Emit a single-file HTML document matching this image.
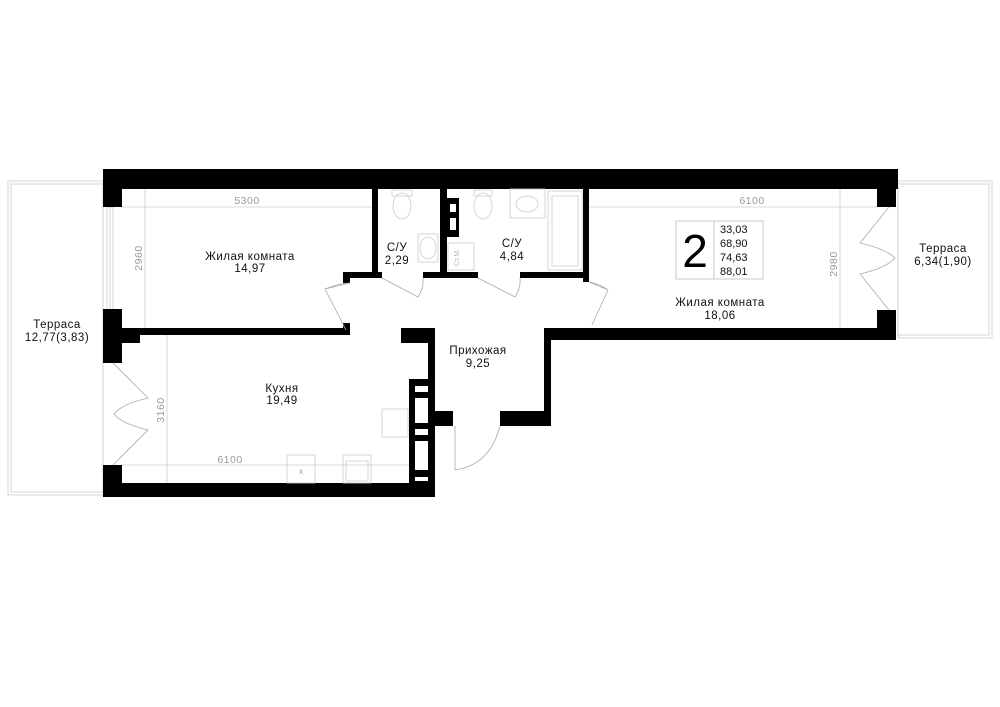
<!DOCTYPE html>
<html><head><meta charset="utf-8"><style>
html,body{margin:0;padding:0;background:#fff;}
svg{display:block;}
text{font-family:"Liberation Sans",sans-serif;}
.l{font-size:11.5px;fill:#111;text-anchor:middle;letter-spacing:0.5px;}
.d{font-size:10.5px;fill:#999;text-anchor:middle;letter-spacing:0.5px;}
.g{stroke:#aaa;stroke-width:0.8;fill:none;}
.f{stroke:#ccc;stroke-width:0.8;fill:none;}
</style></head><body>
<svg width="1000" height="707" viewBox="0 0 1000 707" xmlns="http://www.w3.org/2000/svg">
<g class="f">
<rect x="8" y="181" width="95" height="314"/>
<rect x="11" y="184" width="92" height="308"/>
<rect x="898" y="181" width="94" height="157"/>
<rect x="898" y="184" width="91" height="151"/>
</g>
<g class="f"><rect x="107" y="207" width="6" height="103"/><line x1="110" y1="207" x2="110" y2="310"/></g>
<g fill="#000">
<rect x="103" y="169" width="795" height="20"/>
<rect x="103" y="169" width="19" height="38"/>
<rect x="103" y="309" width="19" height="54"/>
<rect x="122" y="328" width="18" height="15"/>
<rect x="122" y="328" width="228" height="7"/>
<rect x="343" y="323" width="7" height="12"/>
<rect x="103" y="465" width="19" height="32"/>
<rect x="103" y="483" width="332" height="14"/>
<rect x="372" y="189" width="6" height="89"/>
<rect x="343" y="272" width="39" height="6"/>
<rect x="343" y="272" width="7" height="11"/>
<rect x="423" y="272" width="24" height="6"/>
<rect x="440" y="189" width="7" height="89"/>
<rect x="447" y="198" width="12" height="39"/>
<rect x="447" y="272" width="31" height="6"/>
<rect x="520" y="272" width="68" height="6"/>
<rect x="583" y="189" width="6" height="93"/>
<rect x="877" y="169" width="19" height="38"/>
<rect x="877" y="310" width="19" height="30"/>
<rect x="544" y="328" width="352" height="12"/>
<rect x="544" y="328" width="7" height="97"/>
<rect x="500" y="411" width="51" height="15"/>
<rect x="401" y="328" width="34" height="15"/>
<rect x="428" y="328" width="7" height="169"/>
<rect x="409" y="379" width="26" height="104"/>
<rect x="435" y="411" width="18" height="15"/>
</g>
<g fill="#fff">
<rect x="450" y="204" width="6" height="8"/><rect x="450" y="218" width="6" height="12"/>
<rect x="415" y="386" width="13" height="6"/><rect x="415" y="398" width="13" height="25"/>
<rect x="415" y="429" width="13" height="6"/><rect x="415" y="441" width="13" height="29"/>
<rect x="415" y="477" width="13" height="4"/>
</g>
<g class="g">
<path d="M350 283 L325 289 L346 330"/>
<path d="M325 289 Q340 283 350 283"/>
<path d="M382 278 L418 297 Q424 288 423 278"/>
<path d="M478 278 L515 297 Q521 288 520 278"/>
<path d="M589 282 L608 290 L592 325"/>
<path d="M608 290 Q600 284 589 282"/>
<path d="M455 426 L455 470 Q490 465 500 426"/>
<path d="M113 363 L148 398 Q122 404 114 414 Q122 424 148 430 L113 465"/>
<path d="M889 207 L860 243 Q886 249 895 258 Q886 268 860 274 L889 310"/>
</g>
<g class="f">
<rect x="392" y="190" width="20" height="6"/><ellipse cx="402" cy="206" rx="9" ry="13"/>
<rect x="418" y="234" width="20" height="28"/><ellipse cx="428" cy="248" rx="8" ry="11"/>
<rect x="474" y="190" width="18" height="6"/><ellipse cx="483" cy="206" rx="9" ry="13"/>
<rect x="510" y="189" width="35" height="29"/><ellipse cx="527" cy="204" rx="11" ry="8"/>
<rect x="548" y="191" width="34" height="79"/><rect x="552" y="196" width="26" height="70"/>
<rect x="448" y="243" width="26" height="27"/>
<rect x="382" y="409" width="26" height="28"/>
<rect x="287" y="455" width="28" height="28"/>
<rect x="343" y="455" width="28" height="28"/><rect x="346" y="461" width="22" height="20"/>
</g>
<text x="459" y="266" font-size="7" fill="#bbb" transform="rotate(-90 459 266)">Ст.М.</text>
<text x="301" y="474" font-size="8" fill="#999" text-anchor="middle">x</text>
<g stroke="#ccc" stroke-width="0.8">
<line x1="122" y1="207" x2="372" y2="207"/>
<line x1="145" y1="189" x2="145" y2="328"/>
<line x1="122" y1="465" x2="409" y2="465"/>
<line x1="167" y1="335" x2="167" y2="483"/>
<line x1="589" y1="207" x2="877" y2="207"/>
<line x1="840" y1="189" x2="840" y2="328"/>
</g>
<text class="d" x="247" y="204">5300</text>
<text class="d" x="230" y="463">6100</text>
<text class="d" x="752" y="204">6100</text>
<text class="d" x="142" y="258" transform="rotate(-90 142 258)">2960</text>
<text class="d" x="164" y="410" transform="rotate(-90 164 410)">3160</text>
<text class="d" x="837" y="264" transform="rotate(-90 837 264)">2980</text>
<text class="l" x="250" y="260">Жилая комната</text><text class="l" x="250" y="272">14,97</text>
<text class="l" x="397" y="251">С/У</text><text class="l" x="397" y="264">2,29</text>
<text class="l" x="512" y="247">С/У</text><text class="l" x="512" y="260">4,84</text>
<text class="l" x="720" y="306">Жилая комната</text><text class="l" x="720" y="319">18,06</text>
<text class="l" x="478" y="354">Прихожая</text><text class="l" x="478" y="367">9,25</text>
<text class="l" x="282" y="392">Кухня</text><text class="l" x="282" y="404">19,49</text>
<text class="l" x="57" y="328">Терраса</text><text class="l" x="57" y="341">12,77(3,83)</text>
<text class="l" x="943" y="252">Терраса</text><text class="l" x="943" y="265">6,34(1,90)</text>
<rect x="676" y="221" width="87" height="58" fill="none" stroke="#bbb" stroke-width="0.8"/>
<line x1="714" y1="221" x2="714" y2="279" stroke="#bbb" stroke-width="0.8"/>
<text x="695" y="267" font-size="46" text-anchor="middle" fill="#000">2</text>
<g font-size="11" fill="#111">
<text x="720" y="233">33,03</text><text x="720" y="247">68,90</text>
<text x="720" y="261">74,63</text><text x="720" y="275">88,01</text>
</g>
</svg>
</body></html>
